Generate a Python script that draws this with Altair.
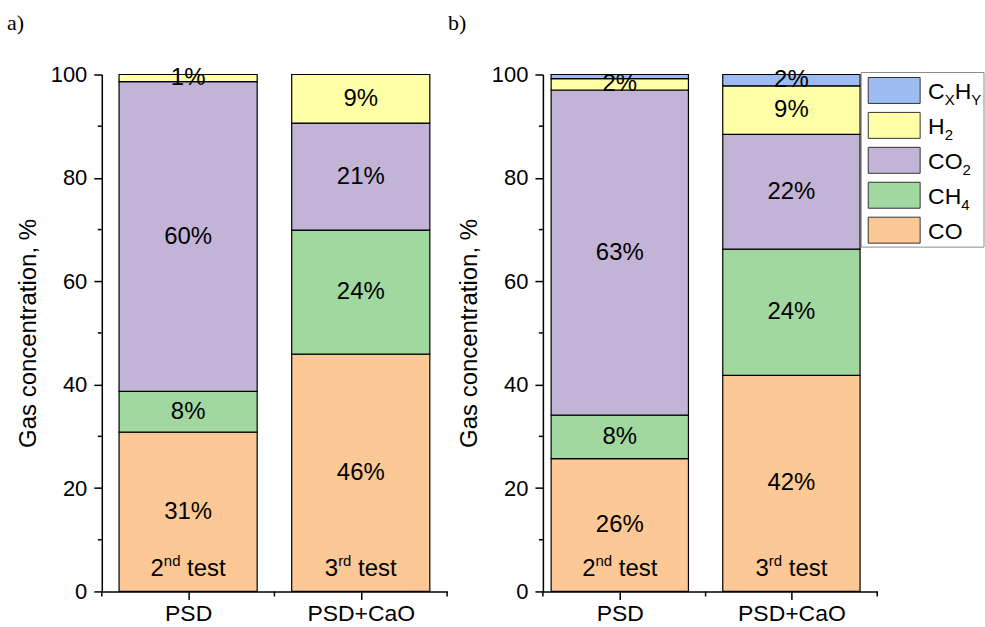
import altair as alt
import pandas as pd

# ---- data -------------------------------------------------------------
categories = ["PSD", "PSD+CaO"]
gases = ["CO", "CH4", "CO2", "H2", "CxHy"]
gas_colors = ["#FCC896", "#A0D8A0", "#C2B3D7", "#FFFFA8", "#9DBDF2"]

# gas composition, % (order follows `gases`)
a_psd = [30.8, 7.9, 59.9, 1.4, 0.0]
a_cao = [45.9, 24.0, 20.7, 9.4, 0.0]
b_psd = [25.7, 8.4, 62.9, 2.2, 0.8]
b_cao = [41.8, 24.4, 22.2, 9.4, 2.2]

test_numbers = ["2", "3"]
test_suffixes = ["nd", "rd"]

# legend labels split into (text, is_subscript) pieces
legend_parts = {
    "CxHy": [("C", 0), ("X", 1), ("H", 0), ("Y", 1)],
    "H2": [("H", 0), ("2", 1)],
    "CO2": [("CO", 0), ("2", 1)],
    "CH4": [("CH", 0), ("4", 1)],
    "CO": [("CO", 0)],
}

SANS = "Liberation Sans"
SERIF = "Liberation Serif"
FS_BAR = 24      # in-bar labels
FS_SUP = 15      # ordinal suffix
FS_TICK = 22
FS_XLAB = 23
FS_TITLE = 24
FS_LEG = 23
FS_LEG_SUB = 15
H = 518          # plot height

# Liberation Sans advance widths (em) for laying out mixed-size labels
ADV = {"2": 0.556, "3": 0.556, "4": 0.556, "n": 0.556, "d": 0.556, "r": 0.333,
       " ": 0.278, "t": 0.278, "e": 0.556, "s": 0.5, "C": 0.722, "H": 0.722,
       "O": 0.778, "X": 0.667, "Y": 0.667}


def text_width(s, size):
    return sum(ADV.get(ch, 0.556) for ch in s) * size


def stacked_frame(values_by_cat):
    rows = []
    for ci, vals in enumerate(values_by_cat):
        base = 0.0
        for gi, v in enumerate(vals):
            if v > 0:
                rows.append({"idx": ci + 1, "gas": gases[gi], "value": v,
                             "y0": base, "y1": base + v, "mid": base + v / 2,
                             "lo": ci + 1 - 0.4, "hi": ci + 1 + 0.4})
            base += v
    return pd.DataFrame(rows)


def panel(values_by_cat, domain, width, letter, legend=False):
    df = stacked_frame(values_by_cat)
    xs = alt.Scale(domain=domain, nice=False, zero=False)
    ys = alt.Scale(domain=[0, 100], nice=False)
    step_px = width / (domain[1] - domain[0])

    label_expr = " : ".join(
        f"datum.value == {i + 1} ? '{c}'" for i, c in enumerate(categories)
    ) + " : ''"

    bars = alt.Chart(df).mark_bar(stroke="black", strokeWidth=1.2).encode(
        x=alt.X("lo:Q", scale=xs, title=None,
                axis=alt.Axis(values=[1, 2], labelExpr=label_expr, tickSize=8,
                              labelPadding=3, labelFontSize=FS_XLAB)),
        x2="hi:Q",
        y=alt.Y("y0:Q", scale=ys, title="Gas concentration, %",
                axis=alt.Axis(values=[0, 20, 40, 60, 80, 100], tickSize=8,
                              labelPadding=7, titlePadding=10)),
        y2="y1:Q",
        color=alt.Color("gas:N", scale=alt.Scale(domain=gases, range=gas_colors),
                        legend=None),
    )

    pct = alt.Chart(df).transform_filter("datum.value >= 1").transform_calculate(
        lab="format(datum.value, '.0f') + '%'"
    ).mark_text(font=SANS, fontSize=FS_BAR, color="black", baseline="middle").encode(
        x=alt.X("idx:Q", scale=xs), y=alt.Y("mid:Q", scale=ys), text="lab:N")

    # "2nd test" / "3rd test" labels with raised ordinal suffix
    seg_rows = []
    gap = ADV[" "] * FS_BAR
    for ci in range(len(categories)):
        pieces = [(test_numbers[ci], FS_BAR, 0, 0.0),
                  (test_suffixes[ci], FS_SUP, 1, gap),
                  ("test", FS_BAR, 0, 0.0)]
        total = sum(text_width(t, s) + g for t, s, _, g in pieces)
        off = -total / 2
        for t, s, sup, g in pieces:
            seg_rows.append({"x": ci + 1 + off / step_px, "t": t, "sup": sup})
            off += text_width(t, s) + g
    seg = pd.DataFrame(seg_rows)
    test_main = alt.Chart(seg).transform_filter("datum.sup == 0").mark_text(
        font=SANS, fontSize=FS_BAR, align="left", baseline="alphabetic", color="black"
    ).encode(x=alt.X("x:Q", scale=xs), y=alt.value(H - 15), text="t:N")
    test_sup = alt.Chart(seg).transform_filter("datum.sup == 1").mark_text(
        font=SANS, fontSize=FS_SUP, align="left", baseline="alphabetic", color="black"
    ).encode(x=alt.X("x:Q", scale=xs), y=alt.value(H - 25), text="t:N")

    # minor ticks: y every 10 between labelled ticks, x between categories and at ends
    ymin = alt.Chart(pd.DataFrame({"v": [10, 30, 50, 70, 90]})).mark_rule(
        color="black", strokeWidth=1.5).encode(
        y=alt.Y("v:Q", scale=ys), x=alt.value(-4), x2=alt.value(0))
    xmin = alt.Chart(pd.DataFrame({"v": [domain[0], 1.5, domain[1]]})).mark_rule(
        color="black", strokeWidth=1.5).encode(
        x=alt.X("v:Q", scale=xs), y=alt.value(H), y2=alt.value(H + 5))

    tag = alt.Chart(pd.DataFrame({"t": [letter]})).mark_text(
        font=SERIF, fontSize=22, align="left", baseline="middle", color="black"
    ).encode(x=alt.value(-95), y=alt.value(-52), text="t:N")

    layers = [bars, pct, test_main, test_sup, ymin, xmin, tag]

    if legend:
        order = list(reversed(gases))
        sw = pd.DataFrame({"gas": order, "row": list(range(len(order)))})
        box = alt.Chart(pd.DataFrame({"k": [0]})).mark_rect(
            fill="white", stroke="#8c8c8c", strokeWidth=1).encode(
            x=alt.value(319), x2=alt.value(442), y=alt.value(-2), y2=alt.value(173))
        swatch = alt.Chart(sw).transform_calculate(
            ly="3 + datum.row * 35", ly2="29 + datum.row * 35"
        ).mark_rect(stroke="#333333", strokeWidth=1).encode(
            x=alt.value(326), x2=alt.value(378),
            y=alt.Y("ly:Q", scale=None), y2="ly2:Q",
            color=alt.Color("gas:N", scale=alt.Scale(domain=gases, range=gas_colors),
                            legend=None))
        trows = []
        for r, g in enumerate(order):
            off = 0.0
            for t, sub in legend_parts[g]:
                size = FS_LEG_SUB if sub else FS_LEG
                trows.append({"row": r, "t": t, "sub": sub, "tx": 386 + off})
                off += text_width(t, size)
        lt = pd.DataFrame(trows)
        ltxt = alt.Chart(lt).transform_filter("datum.sub == 0").transform_calculate(
            ty="24.5 + datum.row * 35").mark_text(
            font=SANS, fontSize=FS_LEG, align="left", baseline="alphabetic", color="black"
        ).encode(x=alt.X("tx:Q", scale=None), y=alt.Y("ty:Q", scale=None), text="t:N")
        lsub = alt.Chart(lt).transform_filter("datum.sub == 1").transform_calculate(
            ty="30.5 + datum.row * 35").mark_text(
            font=SANS, fontSize=FS_LEG_SUB, align="left", baseline="alphabetic", color="black"
        ).encode(x=alt.X("tx:Q", scale=None), y=alt.Y("ty:Q", scale=None), text="t:N")
        layers += [box, swatch, ltxt, lsub]

    return alt.layer(*layers).properties(width=width, height=H)


left = panel([a_psd, a_cao], [0.5, 2.5], 346, "a)")
right = panel([b_psd, b_cao], [0.552, 2.5], 335, "b)", legend=True)

chart = alt.hconcat(left, right, spacing=0).properties(
    padding={"left": 7, "top": 11, "right": 0, "bottom": 0},
    background="white",
).configure_view(stroke=None).configure_axis(
    grid=False, domainColor="black", domainWidth=1.5, tickColor="black",
    tickWidth=1.5, labelFont=SANS, labelFontSize=FS_TICK, labelColor="black",
    titleFont=SANS, titleFontSize=FS_TITLE, titleFontWeight="normal", titleColor="black",
)

chart.save("out.html", embed_options={"renderer": "svg", "actions": False})
